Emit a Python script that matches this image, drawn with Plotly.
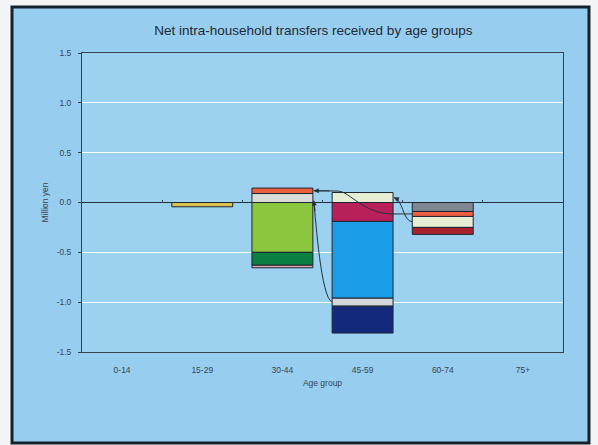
import plotly.graph_objects as go

# Age groups on the category axis
age_groups = ["0-14", "15-29", "30-44", "45-59", "60-74", "75+"]

# Stacked components per age group (million yen); None = no segment
layer_a = [None, -0.043, 0.09, 0.10, -0.09, None]
layer_b = [None, None, 0.055, -0.19, -0.05, None]
layer_c = [None, None, -0.50, -0.77, -0.11, None]
layer_d = [None, None, -0.13, -0.08, -0.07, None]
layer_e = [None, None, -0.025, -0.27, None, None]

colors_a = ["#000000", "#dcc050", "#d8dcd8", "#e6efd6", "#7f8790", "#000000"]
colors_b = ["#000000", "#000000", "#e8603c", "#b8205a", "#ee6040", "#000000"]
colors_c = ["#000000", "#000000", "#8cc63e", "#1a9de6", "#e6efd6", "#000000"]
colors_d = ["#000000", "#000000", "#0b7f42", "#d3d7dc", "#a8222e", "#000000"]
colors_e = ["#000000", "#000000", "#e8a4b4", "#13297c", "#000000", "#000000"]

y_ticks = [-1.5, -1.0, -0.5, 0.0, 0.5, 1.0, 1.5]
y_tick_text = ["-1.5", "-1.0", "-0.5", "0.0", "0.5", "1.0", "1.5"]

layers = [layer_a, layer_b, layer_c, layer_d, layer_e]
layer_colors = [colors_a, colors_b, colors_c, colors_d, colors_e]

BAR_W = 0.76
EDGE = "#1c2630"
x_pos = list(range(len(age_groups)))

fig = go.Figure()
for vals, cols in zip(layers, layer_colors):
    fig.add_trace(go.Bar(
        x=x_pos, y=vals, width=BAR_W,
        marker=dict(color=cols, line=dict(color=EDGE, width=1)),
        showlegend=False, hoverinfo="skip",
    ))

# segment bounds, following the relative stacking order
bounds = {}
for gi in range(len(age_groups)):
    pos, neg = 0.0, 0.0
    for li, vals in enumerate(layers):
        v = vals[gi]
        if v is None:
            continue
        if v >= 0:
            bounds[(gi, li)] = (pos, pos + v)
            pos += v
        else:
            bounds[(gi, li)] = (neg + v, neg)
            neg += v


def mid(gi, li):
    lo, hi = bounds[(gi, li)]
    return (lo + hi) / 2


hw = BAR_W / 2
ARROW = "#25313c"

# transfer flows between age-group components
flows = []
# 60-74 orange -> 30-44 orange
y0 = mid(4, 1)
y1 = mid(2, 1)
top45 = bounds[(3, 0)][1]
flows.append((
    f"M {4 - hw},{y0} L {3.39},{y0} C {3.0},{y0} {2.85},{top45 + 0.01} {2.69},{top45 + 0.015} L {2 + hw + 0.01},{y1}",
    (2 + hw + 0.01, y1), (2.6, y1)))
# 60-74 cream -> 45-59 cream
y0 = mid(4, 2)
y1 = mid(3, 0)
flows.append((
    f"M {4 - hw},{y0} C {3.5},{y0 + 0.01} {3.5},{y1 - 0.01} {3 + hw + 0.01},{y1}",
    (3 + hw + 0.01, y1), (3.47, y1 - 0.03)))
# 45-59 grey -> 30-44 grey
y0 = mid(3, 3)
y1 = bounds[(2, 0)][0] + 0.02
flows.append((
    f"M {3 - hw},{y0} C {2.48},{y0 + 0.05} {2.42},{-0.2} {2 + hw + 0.01},{y1}",
    (2 + hw + 0.01, y1), (2.41, y1 - 0.12)))

shapes = [
    # outer frame
    dict(type="rect", xref="paper", yref="paper", x0=-0.1455, x1=1.054,
         y0=-0.304, y1=1.154, fillcolor="#97cdee",
         line=dict(color="#17212c", width=3), layer="below"),
    # plot area
    dict(type="rect", xref="paper", yref="paper", x0=0, x1=1, y0=0, y1=1,
         fillcolor="#9dd1f0", line=dict(width=0), layer="below"),
]
annotations = []
for path, head, tail in flows:
    shapes.append(dict(type="path", xref="x", yref="y", path=path,
                       line=dict(color=ARROW, width=1), layer="above"))
    annotations.append(dict(x=head[0], y=head[1], ax=tail[0], ay=tail[1],
                            xref="x", yref="y", axref="x", ayref="y",
                            text="", showarrow=True, arrowhead=2,
                            arrowsize=1, arrowwidth=1, arrowcolor=ARROW,
                            standoff=0))

# category separators on the zero line
fig.add_trace(go.Scatter(x=[0], y=[0], xaxis="x2", mode="markers",
                         marker=dict(opacity=0), showlegend=False,
                         hoverinfo="skip"))

FONT = "Liberation Sans, Arial, sans-serif"
fig.update_layout(
    width=598, height=445,
    margin=dict(l=82, r=35, t=53, b=93),
    paper_bgcolor="#f2f4f6",
    plot_bgcolor="rgba(0,0,0,0)",
    barmode="relative",
    bargap=0.24,
    font=dict(family=FONT, size=8.5, color="#3a4550"),
    title=dict(text="Net intra-household transfers received by age groups",
               x=0.524, xref="container", xanchor="center",
               y=1 - 30 / 445, yref="container", yanchor="middle",
               font=dict(size=13.5, color="#1f2a35")),
    xaxis=dict(range=[-0.5, 5.5], tickvals=x_pos, ticktext=age_groups,
               showgrid=False, zeroline=False, ticks="",
               showline=True, mirror=True, linecolor="#35414c", linewidth=1,
               title=dict(text="Age group", standoff=5,
                          font=dict(size=8.5, color="#3a4550")),
               ticklabelstandoff=10),
    xaxis2=dict(range=[-0.5, 5.5], overlaying="x", anchor="free",
                position=0.5, side="top", showgrid=False, zeroline=False,
                tickvals=[0.5, 1.5, 2.5, 3.5, 4.5], ticks="outside",
                ticklen=3, tickcolor="#35414c", showticklabels=False,
                showline=False),
    yaxis=dict(range=[-1.5, 1.5], tickvals=y_ticks, ticktext=y_tick_text,
               showgrid=True, gridcolor="#ffffff", gridwidth=1,
               zeroline=True, zerolinecolor="#25313c", zerolinewidth=1,
               showline=True, mirror=True, linecolor="#35414c", linewidth=1,
               ticks="outside", ticklen=3, tickcolor="#35414c",
               ticklabelstandoff=5,
               title=dict(text="Million yen", standoff=6,
                          font=dict(size=8.5, color="#3a4550"))),
    shapes=shapes,
    annotations=annotations,
)

fig.write_html("out.html")
